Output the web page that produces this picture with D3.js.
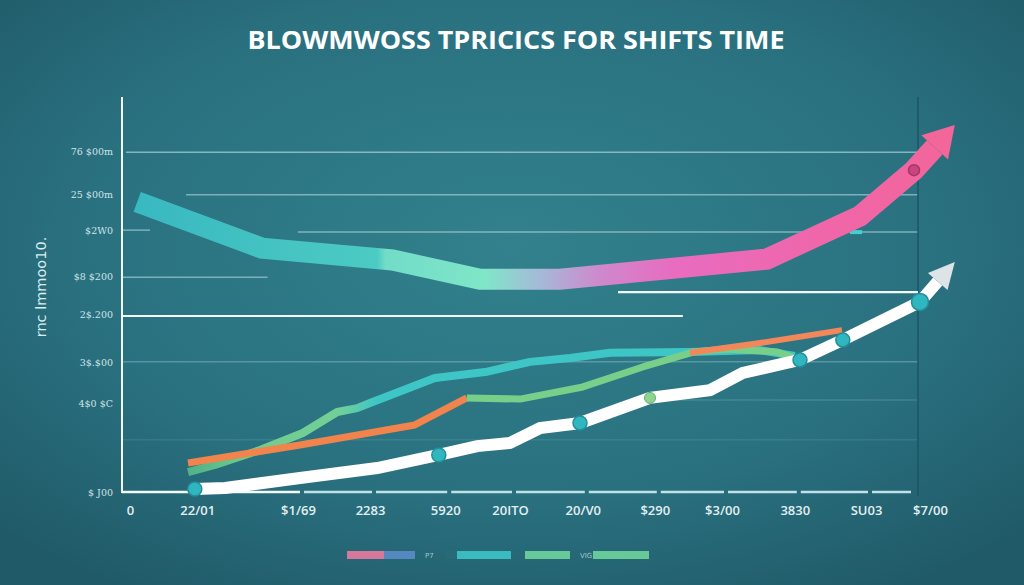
<!DOCTYPE html>
<html>
<head>
<meta charset="utf-8">
<script src="https://cdn.jsdelivr.net/npm/d3@7"></script>
<style>
  html, body { margin: 0; padding: 0; background: #256774; }
  svg { display: block; }
</style>
</head>
<body>
<div id="chart"></div>
<script>
// ---- data ----
var titleText = "BLOWMWOSS TPRICICS FOR SHIFTS TIME";
var yTitle = "rnc lmmoo10.";

var xTickVals = [0, 8.4, 21, 30, 39.4, 47.5, 56.6, 65.6, 74, 83.1, 92, 100];
var xTickLabels = ["0", "22/01", "$1/69", "2283", "5920", "20ITO", "20/V0", "$290", "$3/00", "3830", "SU03", "$7/00"];
var yTickVals = [87, 76, 66.8, 55.1, 45.2, 33, 22.7, -0.2];
var yTickLabels = ["76 $00m", "25 $00m", "$2W0", "$8 $200", "2$.200", "3$.$00", "4$0 $C", "$ J00"];

// thick gradient band with arrow
var bandX = [0.9, 16.5, 32.8, 43.75, 53.75, 79.6, 91.25, 98];
var bandY = [74, 62.2, 59.2, 54.3, 54.3, 59.4, 70.4, 82.1];
var bandTip = [103.1, 93.6];

// white line with arrow
var whiteX = [8.1, 11.9, 21.25, 30.9, 38.6, 43.4, 47.5, 51.25, 56.25, 65, 72.5, 76.6, 83.75, 89.1, 98.75];
var whiteY = [0.77, 1.02, 3.57, 6.12, 9.44, 11.7, 12.5, 16.3, 17.6, 24, 26, 30.4, 33.7, 38.8, 48.5];
var whiteTip = [103.1, 58.7];
var whiteMarks = [0, 4, 8, 12, 13, 14];
var whiteGreenMarks = [9];

// green -> teal line
var tealX = [7.25, 10.6, 16.25, 21.6, 25.9, 28.4, 30, 38.1, 44.4, 50, 55, 60, 70, 78.75, 83.1];
var tealY = [5.1, 6.9, 10.7, 15.05, 20.4, 21.4, 22.7, 29.1, 30.6, 33.2, 34.2, 35.5, 35.7, 36.2, 34.7];

// orange line (two visible pieces) and green line
var orangeX = [7.25, 21.25, 35.6, 42.1];
var orangeY = [7.4, 12, 17.1, 24];
var greenX = [42.1, 48.75, 56.6, 64.1, 70.4, 74.6, 80.9, 83.75];
var greenY = [24, 23.7, 26.8, 31.9, 35.7, 36.5, 35.7, 33.7];
var orange2X = [70, 78.75, 89];
var orange2Y = [35.5, 38, 41.3];

// grid lines: [value, fromX, toX]
var gridVals = [86.7, 75.8, 66.3, 54.8, 33.2, 23.5, 13.3];
var gridFrom = [-0.5, 7, 21, -1, -1, 66, -1];
var gridTo = [98.5, 98.5, 98.5, 17.2, 98.5, 98.5, 98.5];
var gridAlpha = [0.55, 0.5, 0.5, 0.5, 0.28, 0.16, 0.1];
var gridShortVals = [66.8];
var whiteRuleVals = [44.9, 51.0];
var whiteRuleFrom = [-1, 61];
var whiteRuleTo = [69.1, 98.5];

var legendColors = [["#ea7aa0", "#5c8cc8"], ["#2a6a78", "#3cc4c8"], ["#6fd39c"], ["#6fd39c"]];
var legendLabels = ["P7", "", "VIG", ""];

// ---- drawing ----
var W = 1024, H = 585;
var svg = d3.select("#chart").append("svg").attr("width", W).attr("height", H);
var defs = svg.append("defs");

var bg = defs.append("radialGradient").attr("id", "bg")
    .attr("cx", "50%").attr("cy", "42%").attr("r", "70%");
bg.append("stop").attr("offset", "0%").attr("stop-color", "#32818d");
bg.append("stop").attr("offset", "60%").attr("stop-color", "#2a7180");
bg.append("stop").attr("offset", "100%").attr("stop-color", "#205a68");
svg.append("rect").attr("width", W).attr("height", H).attr("fill", "url(#bg)");

var x = d3.scaleLinear().domain([0, 100]).range([130, 930]);
var y = d3.scaleLinear().domain([0, 100]).range([492, 100]);

function pts(xs, ys) { return xs.map(function (v, i) { return [x(v), y(ys[i])]; }); }
var line = d3.line();

// gradient along x for the band
var bandGrad = defs.append("linearGradient").attr("id", "bandGrad")
    .attr("gradientUnits", "userSpaceOnUse")
    .attr("x1", x(0)).attr("x2", x(103)).attr("y1", 0).attr("y2", 0);
[[0, "#38b8c0"], [0.3, "#4ccbc4"], [0.31, "#72dcc8"], [0.43, "#80e6c8"],
 [0.5, "#a6b8d8"], [0.57, "#cf88cc"], [0.66, "#e86cc0"], [0.85, "#f066a8"], [1, "#f2669a"]]
    .forEach(function (s) { bandGrad.append("stop").attr("offset", s[0]).attr("stop-color", s[1]); });

var tealGrad = defs.append("linearGradient").attr("id", "tealGrad")
    .attr("gradientUnits", "userSpaceOnUse")
    .attr("x1", x(7)).attr("x2", x(84)).attr("y1", 0).attr("y2", 0);
[[0, "#4fb08a"], [0.1, "#70cc8c"], [0.25, "#72cf98"], [0.31, "#3ec6c6"], [1, "#3ec6c6"]]
    .forEach(function (s) { tealGrad.append("stop").attr("offset", s[0]).attr("stop-color", s[1]); });

// grid
gridVals.forEach(function (v, i) {
    svg.append("line")
        .attr("x1", x(gridFrom[i])).attr("x2", x(gridTo[i]))
        .attr("y1", y(v)).attr("y2", y(v))
        .attr("stroke", "#cfeef2").attr("stroke-opacity", gridAlpha[i]).attr("stroke-width", 1.5);
});
gridShortVals.forEach(function (v) {
    svg.append("line").attr("x1", x(-1)).attr("x2", x(2.5))
        .attr("y1", y(v)).attr("y2", y(v))
        .attr("stroke", "#cfeef2").attr("stroke-opacity", 0.5).attr("stroke-width", 1.5);
});
// small cyan bit on the upper grid
svg.append("line").attr("x1", x(90)).attr("x2", x(91.5))
    .attr("y1", y(66.3)).attr("y2", y(66.3))
    .attr("stroke", "#44d0d0").attr("stroke-width", 4);

// frame
svg.append("line").attr("x1", 918).attr("x2", 918).attr("y1", 97).attr("y2", 496)
    .attr("stroke", "#1d5563").attr("stroke-width", 1.5);
svg.append("line").attr("x1", 122).attr("x2", 122).attr("y1", 97).attr("y2", y(0) + 1)
    .attr("stroke", "#f2f8f8").attr("stroke-width", 2);

// bottom axis line in segments
var segStops = [x(-1)].concat(xTickVals.slice(2, 11).map(function (v) { return x(v) + 4; })).concat([913]);
for (var i = 0; i < segStops.length - 1; i++) {
    svg.append("line")
        .attr("x1", segStops[i] + (i ? 2 : 0)).attr("x2", segStops[i + 1] - 2)
        .attr("y1", y(0)).attr("y2", y(0))
        .attr("stroke", i < 1 ? "#f4fafa" : "#bfe2e6").attr("stroke-width", 2.5);
}

// white rules
whiteRuleVals.forEach(function (v, i) {
    svg.append("line")
        .attr("x1", x(whiteRuleFrom[i])).attr("x2", x(whiteRuleTo[i]))
        .attr("y1", y(v)).attr("y2", y(v))
        .attr("stroke", "#f6fbfb").attr("stroke-width", 2.2);
});

function arrowHead(last, tip, len, half) {
    var dx = tip[0] - last[0], dy = tip[1] - last[1];
    var d = Math.hypot(dx, dy), ux = dx / d, uy = dy / d;
    var base = [tip[0] - ux * len, tip[1] - uy * len];
    var nx = -uy, ny = ux;
    return { base: base, poly: [tip, [base[0] + nx * half, base[1] + ny * half], [base[0] - nx * half, base[1] - ny * half]] };
}

// band
var bandPts = pts(bandX, bandY);
var bTip = [x(bandTip[0]), y(bandTip[1])];
var bHead = arrowHead(bandPts[bandPts.length - 1], bTip, 30, 18);
svg.append("path").attr("d", line(bandPts.concat([bHead.base])))
    .attr("fill", "none").attr("stroke", "url(#bandGrad)")
    .attr("stroke-width", 21).attr("stroke-linejoin", "miter").attr("stroke-linecap", "butt");
svg.append("polygon").attr("points", bHead.poly.join(" ")).attr("fill", "#f2669a");
svg.append("circle").attr("cx", bandPts[7][0]).attr("cy", bandPts[7][1]).attr("r", 5.5)
    .attr("fill", "#c9457f").attr("stroke", "#a83468").attr("stroke-width", 1.5);

// teal / green line
svg.append("path").attr("d", line(pts(tealX, tealY)))
    .attr("fill", "none").attr("stroke", "url(#tealGrad)")
    .attr("stroke-width", 8).attr("stroke-linejoin", "round");

// orange & green
svg.append("path").attr("d", line(pts(orangeX, orangeY)))
    .attr("fill", "none").attr("stroke", "#f0844c").attr("stroke-width", 7).attr("stroke-linejoin", "round");
svg.append("path").attr("d", line(pts(greenX, greenY)))
    .attr("fill", "none").attr("stroke", "#78cf8a").attr("stroke-width", 7).attr("stroke-linejoin", "round");
svg.append("path").attr("d", line(pts(orange2X, orange2Y)))
    .attr("fill", "none").attr("stroke", "#f2875a").attr("stroke-width", 6).attr("stroke-linejoin", "round");

// white line
var wPts = pts(whiteX, whiteY);
var wTip = [x(whiteTip[0]), y(whiteTip[1])];
var wHead = arrowHead(wPts[wPts.length - 1], wTip, 26, 13);
svg.append("path").attr("d", line(wPts.concat([wHead.base])))
    .attr("fill", "none").attr("stroke", "#ffffff")
    .attr("stroke-width", 12).attr("stroke-linejoin", "miter").attr("stroke-linecap", "butt");
svg.append("polygon").attr("points", wHead.poly.join(" ")).attr("fill", "#dde4e8");

whiteMarks.forEach(function (k, j) {
    svg.append("circle").attr("cx", wPts[k][0]).attr("cy", wPts[k][1])
        .attr("r", j === whiteMarks.length - 1 ? 8.5 : 7)
        .attr("fill", "#2fb6be").attr("stroke", "#238e9a").attr("stroke-width", 1.5);
});
whiteGreenMarks.forEach(function (k) {
    svg.append("circle").attr("cx", wPts[k][0]).attr("cy", wPts[k][1]).attr("r", 5.5)
        .attr("fill", "#8fd48e").attr("stroke", "#5fae74").attr("stroke-width", 1);
});

// axes labels
var xAxis = svg.append("g").attr("transform", "translate(0," + 503 + ")")
    .call(d3.axisBottom(x).tickValues(xTickVals)
        .tickFormat(function (d, i) { return xTickLabels[i]; }).tickSize(0));
xAxis.select(".domain").remove();
xAxis.selectAll("text").attr("fill", "#e2eff1")
    .style("font-family", "'Open Sans', sans-serif").style("font-size", "13px").style("font-weight", "600");

var yAxis = svg.append("g").attr("transform", "translate(113,0)")
    .call(d3.axisLeft(y).tickValues(yTickVals)
        .tickFormat(function (d, i) { return yTickLabels[i]; }).tickSize(0).tickPadding(0));
yAxis.select(".domain").remove();
yAxis.selectAll("text").attr("fill", "#cfe4e8")
    .style("font-family", "'DejaVu Serif', serif").style("font-size", "9.5px");

svg.append("text")
    .attr("transform", "translate(46,287) rotate(-90)")
    .attr("text-anchor", "middle")
    .attr("fill", "#d9ecef")
    .style("font-family", "'DejaVu Sans', sans-serif").style("font-size", "14.5px")
    .text(yTitle);

// title
svg.append("text")
    .attr("x", 516).attr("y", 49)
    .attr("text-anchor", "middle")
    .attr("fill", "#ffffff")
    .attr("textLength", 537).attr("lengthAdjust", "spacingAndGlyphs")
    .style("font-family", "'Open Sans', sans-serif").style("font-size", "25px").style("font-weight", "700")
    .text(titleText);

// legend
var lg = svg.append("g").attr("transform", "translate(347,551)");
var lx = 0;
var legendWidths = [[37, 31], [12, 54], [45], [56]];
var legendGaps = [10, 14, 3, 0];
legendColors.forEach(function (cols, i) {
    cols.forEach(function (c, j) {
        lg.append("rect").attr("x", lx).attr("y", 0).attr("width", legendWidths[i][j]).attr("height", 8)
            .attr("fill", c).attr("opacity", 0.9);
        lx += legendWidths[i][j];
    });
    if (legendLabels[i]) {
        lg.append("text").attr("x", lx + 10).attr("y", 7).attr("fill", "#9fc7cc")
            .style("font-family", "'DejaVu Sans', sans-serif").style("font-size", "7px")
            .text(legendLabels[i]);
        lx += 20 + legendGaps[i];
    } else {
        lx += legendGaps[i];
    }
});
</script>
</body>
</html>
